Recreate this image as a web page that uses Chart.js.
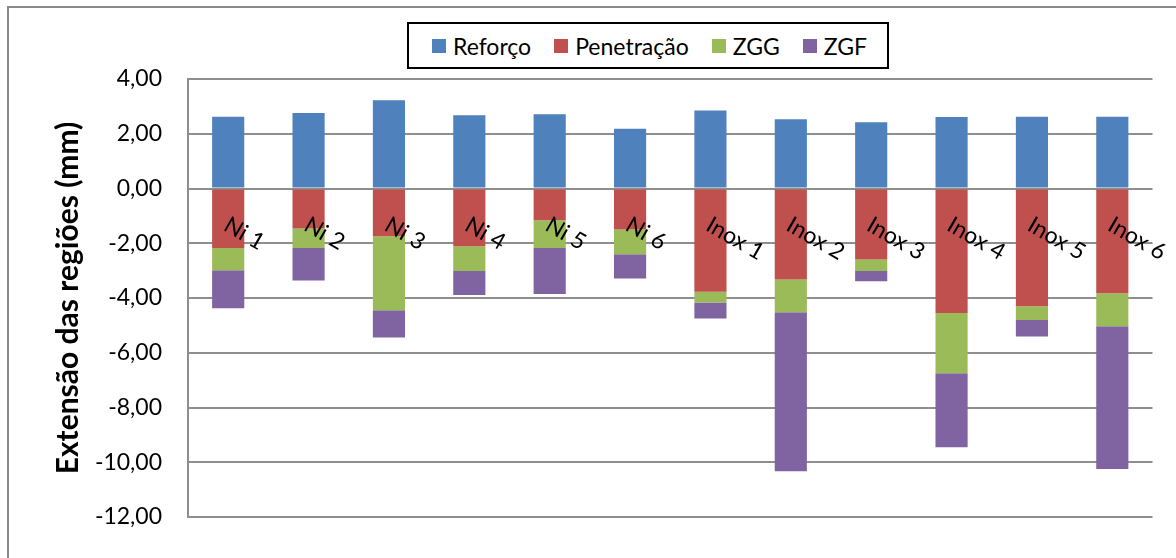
<!DOCTYPE html>
<html><head><meta charset="utf-8">
<script src="https://cdn.jsdelivr.net/npm/chart.js@4.4.0/dist/chart.umd.min.js"></script>
<style>
html,body{margin:0;padding:0;background:#fff;}
#wrap{position:relative;width:1176px;height:558px;overflow:hidden;background:#fff;}
#frame{position:absolute;left:7px;top:6px;right:-10px;bottom:-10px;border-left:2px solid #8a8a8a;border-top:2px solid #8a8a8a;}
#c{position:absolute;left:0;top:0;}
#legend{position:absolute;left:407px;top:22px;height:43px;border:2px solid #000;display:flex;align-items:center;padding:0 20px 0 23px;font-family:Lato;font-size:23px;color:#000;background:#fff;}
.item{display:flex;align-items:center;margin-right:23px;white-space:nowrap;}
.item:last-child{margin-right:0}
.sw{width:14px;height:14px;margin-right:7px;}
</style></head>
<body><div id="wrap"><div id="frame"></div><canvas id="c" width="1176" height="558"></canvas><div id="legend"></div></div>
<script>
const categories = ['Ni 1','Ni 2','Ni 3','Ni 4','Ni 5','Ni 6','Inox 1','Inox 2','Inox 3','Inox 4','Inox 5','Inox 6'];
const seriesNames = ['Reforço','Penetração','ZGG','ZGF'];
const seriesColors = ['#4F81BD','#C0504D','#9BBB59','#8064A2'];
const reforco    = [2.62, 2.76, 3.22, 2.68, 2.71, 2.18, 2.85, 2.53, 2.42, 2.61, 2.62, 2.62];
const penetracao = [-2.17,-1.46,-1.74,-2.11,-1.16,-1.50,-3.77,-3.32,-2.59,-4.55,-4.30,-3.83];
const zgg        = [-0.82,-0.71,-2.71,-0.90,-1.01,-0.90,-0.39,-1.20,-0.42,-2.20,-0.50,-1.20];
const zgf        = [-1.38,-1.19,-0.99,-0.88,-1.68,-0.89,-0.59,-5.81,-0.38,-2.70,-0.61,-5.22];
const yTicks = [4, 2, 0, -2, -4, -6, -8, -10, -12];
const yTitle = 'Extensão das regiões (mm)';

const seriesValues = [reforco, penetracao, zgg, zgf];

// HTML legend
const leg = document.getElementById('legend');
seriesNames.forEach((n, i) => {
  const it = document.createElement('div'); it.className = 'item';
  const sw = document.createElement('div'); sw.className = 'sw'; sw.style.background = seriesColors[i];
  const tx = document.createElement('span'); tx.textContent = n;
  it.appendChild(sw); it.appendChild(tx); leg.appendChild(it);
});

const catLabels = {
  id: 'catLabels',
  afterDatasetsDraw(chart) {
    const {ctx, scales: {x, y}} = chart;
    const y0 = y.getPixelForValue(0);
    ctx.save();
    ctx.font = '23px Lato';
    ctx.fillStyle = '#000';
    ctx.textAlign = 'left';
    ctx.textBaseline = 'alphabetic';
    categories.forEach((c, i) => {
      const px = x.getPixelForValue(i);
      ctx.save();
      ctx.translate(px - 6, y0 + 41);
      ctx.rotate(30 * Math.PI / 180);
      ctx.fillText(c, 0, 0);
      ctx.restore();
    });
    ctx.restore();
  }
};

function draw() {
  new Chart(document.getElementById('c'), {
    type: 'bar',
    data: {
      labels: categories,
      datasets: seriesNames.map((n, i) => ({
        label: n,
        data: seriesValues[i],
        backgroundColor: seriesColors[i],
        borderWidth: 0,
        barPercentage: 0.4,
        categoryPercentage: 1.0
      }))
    },
    options: {
      responsive: false,
      animation: false,
      devicePixelRatio: 1,
      layout: {padding: {left: 18, top: 79, right: 23.5, bottom: 41}},
      plugins: {legend: {display: false}, tooltip: {enabled: false}},
      scales: {
        x: {
          stacked: true,
          display: false,
          grid: {display: false}
        },
        y: {
          stacked: true,
          min: -12, max: 4,
          afterBuildTicks: (s) => { s.ticks = yTicks.map(v => ({value: v})); },
          afterFit: (s) => { s.width = 170; },
          grid: {color: '#8e8e8e', lineWidth: 2, drawTicks: false},
          border: {color: '#8e8e8e', width: 2},
          ticks: {
            padding: 26,
            color: '#000',
            font: {family: 'Lato', size: 23},
            callback: (v) => Number(v).toFixed(2).replace('.', ',')
          },
          title: {
            display: true,
            text: yTitle,
            color: '#000',
            font: {family: 'Lato', size: 30, weight: 'bold'},
            padding: {top: 32, bottom: 0}
          }
        }
      }
    },
    plugins: [catLabels]
  });
}

Promise.all([
  document.fonts.load('23px Lato'),
  document.fonts.load('bold 30px Lato')
]).then(draw, draw);
</script>
</body></html>
